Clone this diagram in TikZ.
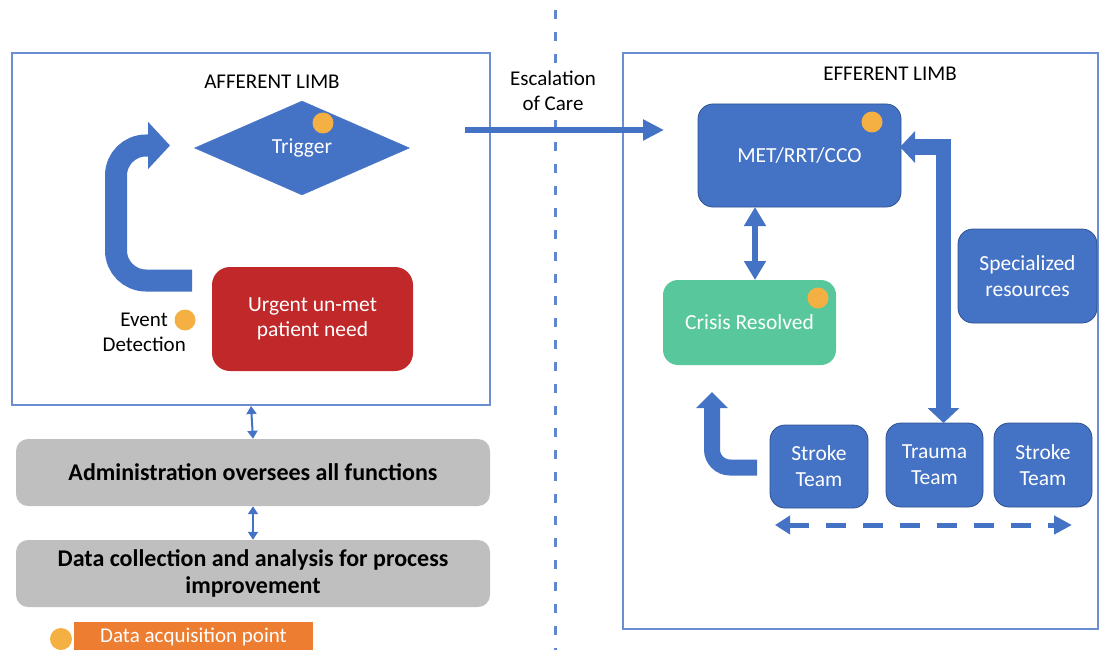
\documentclass[tikz,border=0pt]{standalone}
\usepackage{fontspec}
\setmainfont{Carlito}
\usetikzlibrary{arrows.meta,shapes.geometric}
\definecolor{obl}{HTML}{4472C4}
\definecolor{obd}{HTML}{2F528F}
\definecolor{framec}{HTML}{6A8ED0}
\definecolor{dotc}{HTML}{F4B043}
\definecolor{urg}{HTML}{C0282A}
\definecolor{grn}{HTML}{58C89C}
\definecolor{gry}{HTML}{BFBFBF}
\definecolor{org}{HTML}{ED7D31}
\begin{document}
\begin{tikzpicture}[x=1pt,y=-1pt,
  limb/.style={draw=framec,line width=2pt,inner sep=0pt},
  title/.style={font=\fontsize{21}{25}\selectfont,text=black},
  bluebox/.style={draw=obd,line width=0.8pt,fill=obl,rounded corners=15pt,text=white,
     font=\fontsize{21.5}{26}\selectfont,align=center,inner sep=0pt},
  graybox/.style={fill=gry,rounded corners=12pt,text=black,
     font=\bfseries\fontsize{24}{27}\selectfont,align=center,inner sep=0pt,
     minimum width=474pt,minimum height=67pt},
  dotn/.style={circle,fill=dotc,minimum size=21pt,inner sep=0pt},
  thinarr/.style={draw=obl,line width=2pt,{Triangle[length=8pt,width=10pt]}-{Triangle[length=8pt,width=10pt]}},
]
\useasboundingbox (0,0) rectangle (1100,650);

% vertical dashed divider
\coordinate (dtop) at (555,10);
\coordinate (dbot) at (555,650);
\draw[obl!85,line width=3pt,dash pattern=on 9pt off 13pt] (dtop) -- (dbot);

% limb frames
\node[limb,minimum width=478pt,minimum height=352pt] (aff) at (251,229) {};
\node[limb,minimum width=475pt,minimum height=576pt] (eff) at (860.5,341) {};
\node[title] (afft) at (272,82) {AFFERENT LIMB};
\node[title] (efft) at (890,74) {EFFERENT LIMB};

% escalation
\node[fill=white,inner sep=1pt,align=center,font=\fontsize{21}{25}\selectfont] (esc) at (553,91) {Escalation\\of Care};
\coordinate (escA) at (465,130);
\coordinate (escB) at (664,130);
\draw[obl,line width=6pt,-{Triangle[length=21pt,width=20pt]}] (escA) -- (escB);

% afferent limb
\node[diamond,fill=obl,draw=obl,minimum width=215pt,minimum height=94pt,aspect=2.29,inner sep=0pt,
      text=white,font=\fontsize{21.5}{25}\selectfont] (trig) at (302,148) {Trigger};
\node[dotn] (d1) at (323,123) {};
\node[fill=urg,rounded corners=18pt,minimum width=201pt,minimum height=104pt,text=white,
      font=\fontsize{21.5}{25}\selectfont,align=center,inner sep=0pt] (urgent) at (312.5,319) {Urgent un-met\\patient need};
\node[font=\fontsize{21}{25}\selectfont,align=right,inner sep=0pt,anchor=east] (evt) at (186,332) {Event\hspace*{18pt}\\Detection};
\node[dotn] (d2) at (185,320) {};
\coordinate (loopA) at (192,280.5);
\coordinate (loopB) at (116,280.5);
\coordinate (loopC) at (116,145.5);
\coordinate (loopD) at (170,145.5);
\draw[obl,line width=22pt,rounded corners=30pt,-{Triangle[length=22pt,width=46pt]}] (loopA) -- (loopB) -- (loopC) -- (loopD);

% lower left boxes
\node[graybox] (admin) at (253,472.5) {Administration oversees all functions};
\node[graybox] (data) at (253,573.5) {Data collection and analysis for process\\improvement};
\draw[thinarr] (aff.south) -- (admin.north);
\draw[thinarr] (admin.south) -- (data.north);

% legend
\node[dotn,minimum size=22pt] (ld) at (61,639) {};
\node[fill=org,minimum width=239pt,minimum height=30pt,inner sep=0pt,text=white,
      font=\fontsize{21}{24}\selectfont] (leg) at (193.5,637) {Data acquisition point};

% efferent limb
\node[bluebox,minimum width=203pt,minimum height=103pt] (met) at (799.5,155.5) {MET/RRT/CCO};
\node[dotn] (d3) at (872,122) {};
\node[fill=grn,rounded corners=15pt,minimum width=173pt,minimum height=85pt,text=white,
      font=\fontsize{21.5}{25}\selectfont,inner sep=0pt] (crisis) at (749.5,322.5) {Crisis Resolved};
\node[dotn] (d4) at (818,298) {};
\node[bluebox,minimum width=139pt,minimum height=94pt] (spec) at (1027.5,276) {Specialized\\resources};
\node[bluebox,minimum width=98pt,minimum height=83pt] (st1) at (819,466.5) {Stroke\\Team};
\node[bluebox,minimum width=97pt,minimum height=84pt] (trauma) at (934.5,465) {Trauma\\Team};
\node[bluebox,minimum width=98pt,minimum height=84pt] (st2) at (1043,465) {Stroke\\Team};

\coordinate (mcA) at (755,207);
\coordinate (mcB) at (755,280);
\draw[obl,line width=6pt,{Triangle[length=19pt,width=21pt]}-{Triangle[length=19pt,width=21pt]}] (mcA) -- (mcB);

\coordinate (elA) at (943.5,423);
\coordinate (elB) at (943.5,147);
\coordinate (elC) at (900,147);
\draw[obl,line width=15pt,line join=miter,{Triangle[length=15pt,width=31pt]}-{Triangle[length=15pt,width=31pt]}] (elA) -- (elB) -- (elC);

\coordinate (srA) at (757,467.5);
\coordinate (srB) at (712,467.5);
\coordinate (srC) at (712,392);
\draw[obl,line width=16pt,rounded corners=18pt,-{Triangle[length=16pt,width=31pt]}] (srA) -- (srB) -- (srC);

\coordinate (daA) at (775,525);
\coordinate (daB) at (1072,525);
\draw[obl,line width=5pt,dash pattern=on 20pt off 17pt,{Triangle[length=15pt,width=18pt]}-{Triangle[length=18pt,width=18pt]}] (daA) -- (daB);
\end{tikzpicture}
\end{document}
